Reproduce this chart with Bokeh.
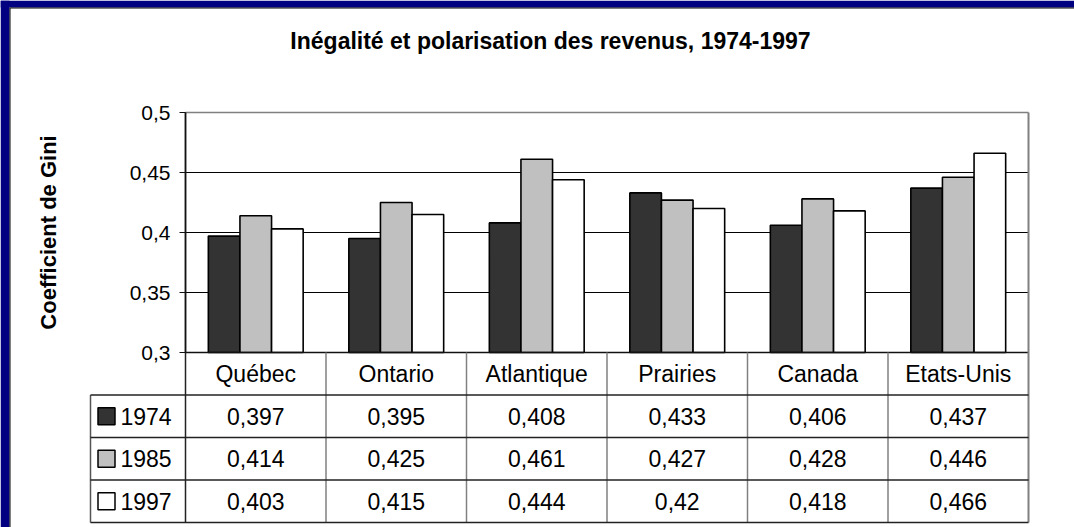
from bokeh.plotting import figure
from bokeh.models import Range1d, FixedTicker, ColumnDataSource
from bokeh.core.properties import value
from bokeh.transform import dodge
from bokeh.embed import file_html
from bokeh.resources import INLINE

# ---------------- data ----------------
categories = ["Québec", "Ontario", "Atlantique", "Prairies", "Canada", "Etats-Unis"]
years = ["1974", "1985", "1997"]
gini_1974 = [0.397, 0.395, 0.408, 0.433, 0.406, 0.437]
gini_1985 = [0.414, 0.425, 0.461, 0.427, 0.428, 0.446]
gini_1997 = [0.403, 0.415, 0.444, 0.420, 0.418, 0.466]
y_ticks = [0.3, 0.35, 0.4, 0.45, 0.5]
y_tick_labels = ["0,3", "0,35", "0,4", "0,45", "0,5"]
title_text = "Inégalité et polarisation des revenus, 1974-1997"
y_label = "Coefficient de Gini"

# ---------------- style / layout constants ----------------
series = [gini_1974, gini_1985, gini_1997]
bar_colors = ["#333333", "#c0c0c0", "#ffffff"]
FONT = "Liberation Sans"
W, H = 1074, 527
X0 = 185            # px of category axis origin
UNIT = 140.5        # px per category
Y_TOP = 112         # px of top tick
PX_Y = 1200.0       # px per Gini unit
ROW = 42.5          # table row height (px)
LEG_L = 90          # px of legend column left edge
n = len(categories)
y_lo, y_hi = y_ticks[0], y_ticks[-1]
Y_BASE = Y_TOP + (y_hi - y_lo) * PX_Y          # px of the 0.3 line
ROWS = [Y_BASE + k * ROW for k in range(5)]     # table horizontal lines (px)
LEG = (X0 - LEG_L) / UNIT

p = figure(width=W, height=H,
           x_range=Range1d(-X0 / UNIT, (W - X0) / UNIT),
           y_range=Range1d(y_lo - (H - Y_BASE) / PX_Y, y_hi + Y_TOP / PX_Y),
           x_axis_location=None,
           output_backend="svg", toolbar_location=None,
           min_border=0)
p.extra_y_ranges = {"px": Range1d(H, 0)}
p.extra_x_ranges = {"pxx": Range1d(0, W)}
p.grid.visible = False
p.outline_line_color = None
p.background_fill_color = "white"
p.border_fill_color = "white"

# slide frame (dark blue border on the left and top)
p.quad(left=[0, 0], right=[9, W], bottom=[H, 7], top=[0, 0],
       x_range_name="pxx", y_range_name="px", fill_color="#000080", line_color=None)
p.segment(x0=[9.5, 9.5], y0=[7.5, 7.5], x1=[9.5, W], y1=[H, 7.5],
          x_range_name="pxx", y_range_name="px", line_color="black", line_width=1)

# title
p.text(x=[550], y=[40], text=[title_text], x_range_name="pxx", y_range_name="px",
       text_font=value(FONT), text_font_size="23px", text_font_style="bold",
       text_align="center", text_baseline="middle", text_color="black")

# grid lines and plot box
grid_y = y_ticks[1:-1]
p.segment(x0=[0] * len(grid_y), y0=grid_y, x1=[n] * len(grid_y), y1=grid_y,
          line_color="black", line_width=1)
p.segment(x0=[0], y0=[y_hi], x1=[n], y1=[y_hi], line_color="#808080", line_width=1.5)

# bars
centers = [i + 0.5 for i in range(n)]
src = ColumnDataSource(dict(x=centers, y0=gini_1974, y1=gini_1985, y2=gini_1997))
offsets = [-0.225, 0.0, 0.225]
for i, (col, off) in enumerate(zip(bar_colors, offsets)):
    p.vbar(x=dodge("x", off), top="y%d" % i, bottom=y_lo, width=0.225, source=src,
           fill_color=col, line_color="black", line_width=1.6)

p.segment(x0=[0], y0=[y_lo], x1=[n], y1=[y_lo], line_color="#111111", line_width=1.6)

# table lines
p.segment(x0=list(range(1, n)), y0=[ROWS[0]] * (n - 1), x1=list(range(1, n)), y1=[ROWS[-1]] * (n - 1),
          y_range_name="px", line_color="#808080", line_width=1.5)
p.segment(x0=[n], y0=[Y_TOP], x1=[n], y1=[ROWS[-1]], y_range_name="px",
          line_color="#808080", line_width=2)
p.segment(x0=[0], y0=[Y_TOP], x1=[0], y1=[ROWS[-1]], y_range_name="px",
          line_color="#222222", line_width=1.5)
p.segment(x0=[-LEG], y0=[ROWS[1]], x1=[-LEG], y1=[ROWS[-1]], y_range_name="px",
          line_color="#555555", line_width=1.5)
p.segment(x0=[-LEG] * 4, y0=ROWS[1:], x1=[n] * 4, y1=ROWS[1:], y_range_name="px",
          line_color="#222222", line_width=1.3)

# category labels and table values
p.text(x=centers, y=[ROWS[0] + ROW / 2] * n, text=categories, y_range_name="px",
       text_font=value(FONT), text_font_size="23px", text_align="center",
       text_baseline="middle", text_color="black")
for r, vals in enumerate(series):
    labels = [str(v).replace(".", ",") for v in vals]
    p.text(x=centers, y=[ROWS[r + 1] + ROW / 2] * n, text=labels, y_range_name="px",
           text_font=value(FONT), text_font_size="23px", text_align="center",
           text_baseline="middle", text_color="black")

rows_y = [ROWS[r + 1] + ROW / 2 for r in range(len(years))]
p.scatter(x=[(106 - X0) / UNIT] * 3, y=rows_y, y_range_name="px", marker="square", size=17,
          fill_color=bar_colors, line_color="black", line_width=1.5)
p.text(x=[(120 - X0) / UNIT] * 3, y=rows_y, text=years, y_range_name="px",
       text_font=value(FONT), text_font_size="23px", text_align="left",
       text_baseline="middle", text_color="black")

# y axis (fixed at the category origin)
ax = p.yaxis[0]
ax.fixed_location = 0
ax.bounds = (y_lo, y_hi)
ax.ticker = FixedTicker(ticks=y_ticks)
ax.major_label_overrides = {t: l for t, l in zip(y_ticks, y_tick_labels)}
ax.minor_tick_line_color = None
ax.major_tick_out = 6
ax.major_tick_in = 0
ax.major_tick_line_color = "#111111"
ax.axis_line_color = "#111111"
ax.axis_line_width = 1.5
ax.major_label_standoff = 9
ax.major_label_text_font = FONT
ax.major_label_text_font_size = "21px"
ax.major_label_text_color = "black"
ax.axis_label = y_label
ax.axis_label_text_font = FONT
ax.axis_label_text_font_size = "22px"
ax.axis_label_text_font_style = "bold"
ax.axis_label_text_color = "black"
ax.axis_label_standoff = 66

open("out.html", "w").write(file_html(p, INLINE))
